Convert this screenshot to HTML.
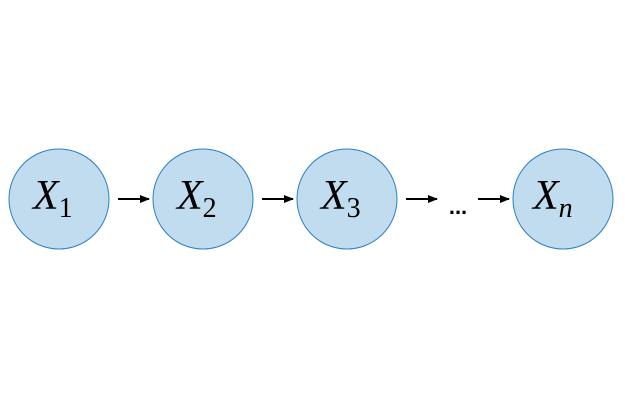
<!DOCTYPE html>
<html><head><style>body{margin:0;background:#fff;position:relative;width:625px;height:400px}
svg{position:absolute;left:0;top:0}
.m{position:absolute;top:172px;font-family:"Liberation Serif","Noto Serif CJK SC","DejaVu Serif",serif;font-style:italic;font-size:42px;line-height:48px;white-space:nowrap}
.s{font-style:normal;font-size:28px;position:relative;top:8px}
</style></head><body>
<svg width="625" height="400" xmlns="http://www.w3.org/2000/svg">
<defs><marker id="a" markerWidth="10" markerHeight="10" refX="9" refY="5" orient="auto" markerUnits="userSpaceOnUse"><path d="M0,1 L10,5 L0,9 Z" fill="#000"/></marker></defs>
<g fill="#c0dcee" stroke="#2a7fc0" stroke-width="1">
<circle cx="59" cy="199" r="50"/><circle cx="203" cy="199" r="50"/><circle cx="347" cy="199" r="50"/><circle cx="563" cy="199" r="50"/>
</g>
<g stroke="#000" stroke-width="2" marker-end="url(#a)">
<line x1="118" y1="199" x2="149" y2="199"/><line x1="262" y1="199" x2="293" y2="199"/><line x1="406" y1="199" x2="437" y2="199"/><line x1="478" y1="199" x2="509" y2="199"/>
</g>
<text x="458" y="214" style="font-family:'Liberation Sans',sans-serif;font-size:22px;font-weight:bold" text-anchor="middle">...</text>
</svg>
<div class="m" style="left:33px">X<span class="s">1</span></div>
<div class="m" style="left:177px">X<span class="s">2</span></div>
<div class="m" style="left:321px">X<span class="s">3</span></div>
<div class="m" style="left:533px">X<span class="s" style="font-style:italic">n</span></div>
</body></html>
